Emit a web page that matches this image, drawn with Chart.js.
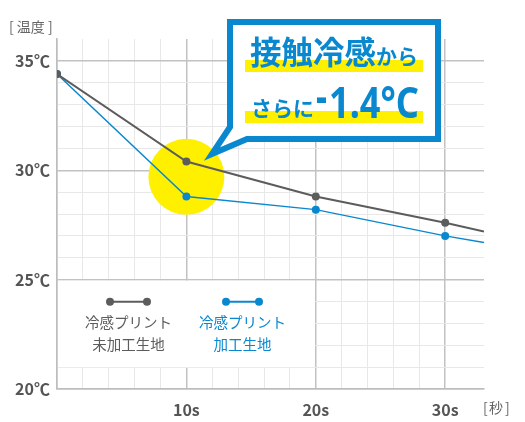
<!DOCTYPE html>
<html>
<head>
    <title>接触冷感 温度変化</title>
    <script src="https://cdn.jsdelivr.net/npm/chart.js"></script>
    <style>
        body { margin: 0; background: #fff; }
        #wrap { width: 525px; height: 422px; }
    </style>
</head>
<body>
    <div id="wrap"><canvas id="coolChart" width="525" height="422"></canvas></div>

    <script>
        // data
        const seconds = [0, 10, 20, 30, 33];
        const untreated = [34.4, 30.4, 28.8, 27.6, 27.2];   // 冷感プリント未加工生地
        const treated = [34.4, 28.8, 28.2, 27.0, 26.7];     // 冷感プリント加工生地
        const dotSizes = [4, 4, 4, 4, 0];
        const xTickLabels = [10, 20, 30];
        const yTickLabels = [20, 25, 30, 35];

        const GRAY = '#5c5c5c';
        const BLUE = '#0a88cf';
        const YELLOW = '#fff000';
        const JP = '"Noto Sans CJK JP", "Noto Sans", sans-serif';

        const toPoints = ys => seconds.map((s, i) => ({ x: s, y: ys[i] }));

        const extras = {
            id: 'extras',
            beforeDatasetsDraw(chart) {
                const ctx = chart.ctx, x = chart.scales.x, y = chart.scales.y;
                ctx.save();
                // legend background
                ctx.fillStyle = '#fff';
                const lx0 = x.getPixelForValue(0) + 1, lx1 = x.getPixelForValue(20) - 1;
                const ly0 = y.getPixelForValue(25) + 1, ly1 = y.getPixelForValue(21);
                ctx.fillRect(lx0, ly0, lx1 - lx0, ly1 - ly0);

                // yellow spot
                ctx.fillStyle = YELLOW;
                ctx.beginPath();
                ctx.arc(x.getPixelForValue(10), y.getPixelForValue(29.7), 38, 0, Math.PI * 2);
                ctx.fill();

                // legend items
                const ly = y.getPixelForValue(25) + 22;
                [[110, 147, GRAY, '冷感プリント', '未加工生地'], [226, 259, BLUE, '冷感プリント', '加工生地']].forEach(([a, b, c, t1, t2]) => {
                    ctx.strokeStyle = c; ctx.fillStyle = c; ctx.lineWidth = 2;
                    ctx.beginPath(); ctx.moveTo(a, ly); ctx.lineTo(b, ly); ctx.stroke();
                    [a, b].forEach(px => { ctx.beginPath(); ctx.arc(px, ly, 4, 0, Math.PI * 2); ctx.fill(); });
                    ctx.font = '14.5px ' + JP;
                    ctx.textAlign = 'center'; ctx.textBaseline = 'middle';
                    const cx = (a + b) / 2;
                    ctx.fillText(t1, cx, ly + 21);
                    ctx.fillText(t2, cx, ly + 43);
                });
                ctx.restore();
            },
            afterDraw(chart) {
                const ctx = chart.ctx;
                ctx.save();
                // axis titles
                ctx.fillStyle = '#666';
                ctx.font = '14px ' + JP;
                ctx.textBaseline = 'middle';
                ctx.textAlign = 'left';
                ctx.fillText('[ 温度 ]', 9, 27);
                ctx.fillText('[', 483, 408);
                ctx.fillText('秒', 489, 408);
                ctx.fillText(']', 505, 408);

                // callout box with tail
                ctx.beginPath();
                ctx.moveTo(230, 22);
                ctx.lineTo(438, 22);
                ctx.lineTo(438, 139);
                ctx.lineTo(247, 139);
                ctx.lineTo(212, 154);
                ctx.lineTo(230, 127);
                ctx.closePath();
                ctx.fillStyle = '#fff';
                ctx.fill();
                ctx.strokeStyle = BLUE;
                ctx.lineWidth = 6;
                ctx.lineJoin = 'miter';
                ctx.stroke();

                // highlight bars
                ctx.fillStyle = YELLOW;
                ctx.fillRect(245, 60, 178, 12);
                ctx.fillRect(245, 111, 178, 12);

                ctx.fillStyle = BLUE;
                ctx.textBaseline = 'alphabetic';
                ctx.textAlign = 'left';
                ctx.font = 'bold 31.5px ' + JP;
                ctx.fillText('接触冷感', 250, 64);
                ctx.font = 'bold 21px ' + JP;
                ctx.fillText('から', 376, 64);
                ctx.fillText('さらに', 251, 116);
                ctx.font = 'bold 44px "Noto Sans", ' + JP;
                ctx.fillText('-', 316, 112, 11);
                ctx.font = 'bold 43px "Noto Sans", ' + JP;
                ctx.fillText('1.4°C', 329, 118, 90);
                ctx.restore();
            }
        };

        const coolChart = new Chart(document.getElementById('coolChart').getContext('2d'), {
            type: 'line',
            data: {
                datasets: [
                    { label: '冷感プリント未加工生地', data: toPoints(untreated), borderColor: GRAY, backgroundColor: GRAY,
                      borderWidth: 2, pointRadius: dotSizes, pointHoverRadius: dotSizes, pointBorderWidth: 0, fill: false },
                    { label: '冷感プリント加工生地', data: toPoints(treated), borderColor: BLUE, backgroundColor: BLUE,
                      borderWidth: 1.5, pointRadius: dotSizes, pointHoverRadius: dotSizes, pointBorderWidth: 0, fill: false }
                ]
            },
            options: {
                responsive: false,
                animation: false,
                layout: { padding: { top: 39, right: 41, left: 0, bottom: 0 } },
                plugins: { legend: { display: false }, tooltip: { enabled: false } },
                scales: {
                    x: {
                        type: 'linear', min: 0, max: 33,
                        afterFit: s => { s.height = 33; },
                        ticks: {
                            stepSize: 2, autoSkip: false, maxRotation: 0, padding: 11,
                            color: '#555', font: { family: JP, size: 16, weight: 'bold' },
                            callback: v => xTickLabels.includes(v) ? v + 's' : ''
                        },
                        grid: {
                            drawTicks: false,
                            lineWidth: c => c.tick.value % 10 === 0 ? 1.5 : 1,
                            color: c => c.tick.value === 33 ? 'rgba(0,0,0,0)' : (c.tick.value % 10 === 0 ? '#c2c2c2' : '#e8e8e8')
                        },
                        border: { color: '#bdbdbd', width: 1.5 }
                    },
                    y: {
                        min: 20, max: 36,
                        afterFit: s => { s.width = 57; },
                        ticks: {
                            stepSize: 1, autoSkip: false, padding: 7,
                            color: '#555', font: { family: JP, size: 16, weight: 'bold' },
                            callback: v => yTickLabels.includes(v) ? v + '℃' : ''
                        },
                        grid: {
                            drawTicks: false,
                            lineWidth: c => c.tick.value % 5 === 0 ? 1.5 : 1,
                            color: c => c.tick.value === 36 ? 'rgba(0,0,0,0)' : (c.tick.value % 5 === 0 ? '#c2c2c2' : '#e8e8e8')
                        },
                        border: { color: '#bdbdbd', width: 1.5 }
                    }
                }
            },
            plugins: [extras]
        });
    </script>
</body>
</html>
